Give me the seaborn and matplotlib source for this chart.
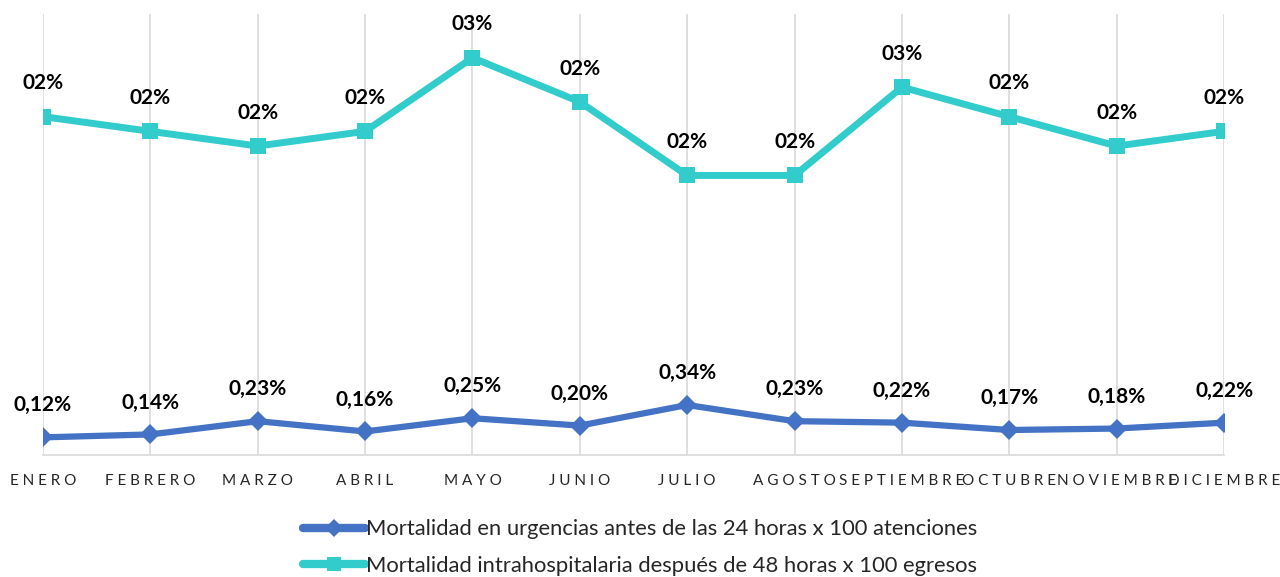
"""Mortalidad mensual: urgencias (<24 h) vs intrahospitalaria (>48 h)."""

import matplotlib

matplotlib.use("Agg")
import matplotlib.pyplot as plt
import pandas as pd
import seaborn as sns

months = [
    "ENERO", "FEBRERO", "MARZO", "ABRIL", "MAYO", "JUNIO",
    "JULIO", "AGOSTO", "SEPTIEMBRE", "OCTUBRE", "NOVIEMBRE", "DICIEMBRE",
]
urgencias = [0.12, 0.14, 0.23, 0.16, 0.25, 0.20, 0.34, 0.23, 0.22, 0.17, 0.18, 0.22]
intrahosp = [2.30, 2.20, 2.10, 2.20, 2.70, 2.40, 1.90, 1.90, 2.50, 2.30, 2.10, 2.20]

label_urg = "Mortalidad en urgencias antes de las 24 horas x 100 atenciones"
label_intra = "Mortalidad intrahospitalaria después de 48 horas x 100 egresos"

BLUE = "#4472C4"
TEAL = "#33CCCC"
TEXT = "#262626"

sns.set_theme(style="white")
plt.rcParams["font.family"] = ["Lato", "DejaVu Sans"]

df = pd.DataFrame({"idx": range(len(months)), "urg": urgencias, "intra": intrahosp})

fig = plt.figure(figsize=(12.8, 5.77), dpi=100)
ax = fig.add_axes([0.0336, 0.2114, 0.9227, 0.765])

for x in df["idx"]:
    ax.axvline(x, color="#D9D9D9", lw=1.2, zorder=0)

sns.lineplot(data=df, x="idx", y="urg", ax=ax, color=BLUE, lw=4.5,
             marker="D", markersize=10, markeredgewidth=0, label=label_urg)
sns.lineplot(data=df, x="idx", y="intra", ax=ax, color=TEAL, lw=5,
             marker="s", markersize=11.5, markeredgewidth=0, label=label_intra)

for i, v in enumerate(urgencias):
    ax.annotate(f"{v:.2f}%".replace(".", ","), (i, v), xytext=(0, 23),
                textcoords="offset points", ha="center", va="center",
                fontsize=15, fontweight="bold", color="black")
for i, v in enumerate(intrahosp):
    ax.annotate(f"{int(v + 0.5):02d}%", (i, v), xytext=(0, 24),
                textcoords="offset points", ha="center", va="center",
                fontsize=15, fontweight="bold", color="black")

ax.set_xlim(0, len(months) - 1)
ax.set_ylim(0, 3.0)
ax.set_xticks(range(len(months)))
ax.set_xticklabels([" ".join(m) for m in months], fontsize=11, color=TEXT)
ax.tick_params(axis="x", length=0, pad=14)
ax.set_yticks([])
ax.set_xlabel("")
ax.set_ylabel("")
for side in ["left", "right", "top"]:
    ax.spines[side].set_visible(False)
ax.spines["bottom"].set_color("#D9D9D9")
ax.spines["bottom"].set_linewidth(1.2)

leg = ax.legend(loc="upper center", bbox_to_anchor=(0.5, 0.1),
                bbox_transform=fig.transFigure, frameon=False, ncol=1,
                fontsize=15.8, handlelength=2.8, handletextpad=0.05,
                labelspacing=0.75, borderaxespad=0, borderpad=0,
                markerscale=0.9)
for t in leg.get_texts():
    t.set_color(TEXT)
for h in leg.legend_handles:
    h.set_linewidth(6)

fig.savefig("out.png", dpi=100)
